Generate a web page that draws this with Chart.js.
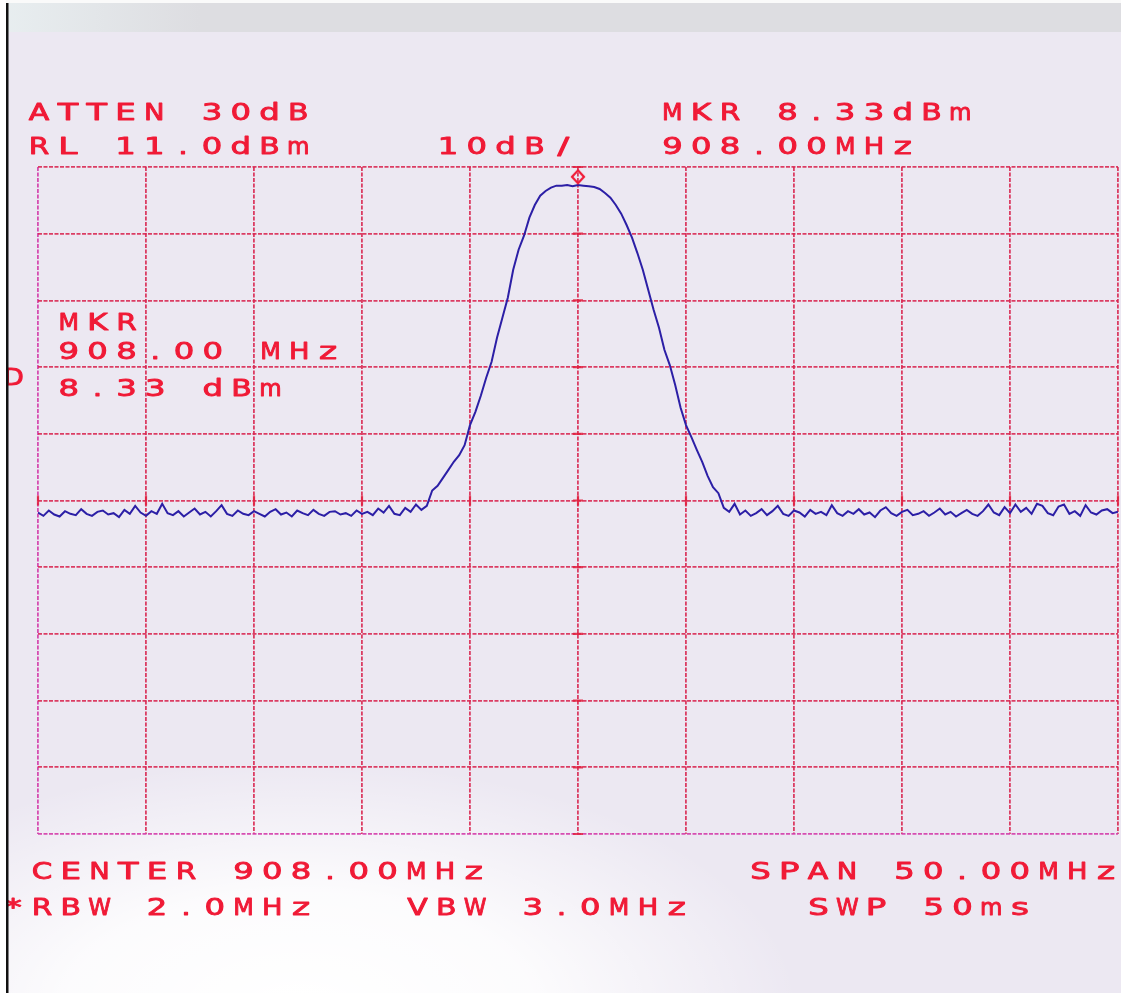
<!DOCTYPE html>
<html>
<head>
<meta charset="utf-8">
<title>Spectrum plot 908 MHz</title>
<script src="https://cdn.jsdelivr.net/npm/chart.js@4.4.1/dist/chart.umd.min.js"></script>
<style>
  html, body { margin: 0; padding: 0; background: #ece8f2; overflow: hidden; }
  canvas { display: block; }
</style>
</head>
<body>
<canvas id="sa" width="1121" height="993"></canvas>
<script>
// analyzer settings, as printed on the plot
const CENTER_MHZ = 908.0;
const SPAN_MHZ = 50.0;
const MARKER_MHZ = 908.0;
const MARKER_DBM = 8.33;

// graticule: 10 divisions each way
const freqTicks = [883, 888, 893, 898, 903, 908, 913, 918, 923, 928, 933];
const levelTicks = [-89, -79, -69, -59, -49, -39, -29, -19, -9, 1, 11];

// trace in dBm, one value every 0.25 MHz from 883 MHz
const floorLeft = [
  -40.8,-41.3,-40.5,-41.1,-41.4,-40.6,-41.0,-41.2,-40.3,-41.0,
  -41.3,-40.7,-40.5,-41.1,-40.9,-41.5,-40.4,-41.0,-39.8,-40.8,
  -41.3,-40.6,-41.0,-39.5,-40.9,-41.2,-40.6,-41.4,-40.8,-40.2,
  -41.1,-40.7,-41.4,-40.6,-39.7,-41.0,-41.3,-40.5,-41.0,-41.2,
  -40.6,-41.0,-41.4,-40.7,-40.3,-41.1,-40.8,-41.4,-40.5,-40.9,
  -41.2,-40.4,-41.0,-41.3,-40.7,-40.6,-41.1,-40.9,-41.3,-40.5,
  -41.0,-40.7,-41.2,-40.2,-40.8,-39.8,-41.0,-41.2,-40.1,-40.7,
  -39.6,-40.4
];
const carrier = [
  -39.8,-37.5,-36.8,-35.6,-34.4,-33.2,-32.2,-30.7,-27.7,-25.7,
  -23.3,-20.6,-18.2,-14.6,-11.6,-8.6,-4.4,-1.4,0.7,3.4,
  5.3,6.7,7.4,7.9,8.2,8.2,8.3,8.1,8.3,8.2,
  8.1,8.0,7.7,7.1,6.4,5.3,4.0,2.3,0.4,-1.9,
  -4.4,-7.4,-10.4,-13.1,-16.4,-18.7,-21.7,-25.1,-27.7,-29.5,
  -31.4,-33.2,-35.3,-37.0,-37.9,-40.1
];
const floorRight = [
  -40.7,-39.5,-41.1,-40.5,-41.3,-40.9,-40.3,-41.2,-40.6,-39.8,
  -41.0,-41.3,-40.5,-40.8,-41.4,-40.4,-41.0,-40.7,-41.2,-39.7,
  -40.9,-41.3,-40.6,-41.0,-40.3,-41.1,-40.8,-41.5,-40.5,-40.0,
  -40.9,-41.3,-40.7,-40.4,-41.2,-41.0,-40.6,-41.3,-40.8,-40.2,
  -41.1,-40.7,-41.4,-40.9,-40.4,-41.0,-41.3,-40.6,-39.6,-40.8,
  -41.2,-40.0,-40.9,-39.6,-40.7,-40.1,-41.0,-39.5,-39.8,-40.9,
  -41.2,-39.9,-39.6,-41.0,-40.6,-41.3,-39.7,-40.8,-41.1,-40.5,
  -40.3,-40.9,-40.7
];

const trace = floorLeft.concat(carrier, floorRight);
const startMhz = CENTER_MHZ - SPAN_MHZ / 2;
const binMhz = SPAN_MHZ / (trace.length - 1);
const tracePoints = trace.map((v, i) => ({x: startMhz + i * binMhz, y: v}));

// printer annotations
const INK = "#f01a36";
const PITCH = 28.8;
const annotations = [
  ["ATTEN 30dB", 28.6, 119.5],
  ["RL 11.0dBm", 28.6, 154],
  ["10dB/", 437.5, 154],
  ["MKR 8.33dBm", 661.8, 119.5],
  ["908.00MHz", 662, 154],
  ["MKR", 58.3, 330],
  ["908.00 MHz", 58.3, 359],
  ["8.33 dBm", 58.3, 396],
  ["D", 3, 385],
  ["CENTER 908.00MHz", 31.4, 879],
  ["SPAN 50.00MHz", 750, 879],
  ["*RBW 2.0MHz", 2.6, 915],
  ["VBW 3.0MHz", 407, 915],
  ["SWP 50ms", 808, 915],
];

function plotterText(ctx, str, x0, base){
  ctx.save();
  ctx.fillStyle = INK;
  ctx.strokeStyle = INK;
  ctx.lineWidth = 0.9;
  ctx.lineJoin = "round";
  ctx.font = '23px "DejaVu Sans"';
  ctx.textAlign = "center";
  ctx.textBaseline = "alphabetic";
  for(let i = 0; i < str.length; i++){
    const ch = str[i];
    if(ch === " ") continue;
    const w = ctx.measureText(ch).width;
    let sx = Math.max(1, Math.min(1.5, 20.5 / w));
    if(ch === ".") sx = 1.3;
    ctx.save();
    ctx.translate(x0 + i * PITCH + 10.5, base);
    ctx.scale(sx, 1);
    ctx.fillText(ch, 0, 0);
    ctx.strokeText(ch, 0, 0);
    ctx.restore();
  }
  ctx.restore();
}

// marker diamond, drawn a little above the trace point
function markerImage(){
  const c = document.createElement("canvas");
  c.width = 16; c.height = 34;
  const g = c.getContext("2d");
  g.strokeStyle = INK;
  g.lineWidth = 2.2;
  g.beginPath();
  g.moveTo(8, 2.5); g.lineTo(14, 9); g.lineTo(8, 15.5); g.lineTo(2, 9);
  g.closePath();
  g.stroke();
  return c;
}

const paper = {
  id: "paper",
  beforeDraw(chart){
    const {ctx, width, height} = chart;
    ctx.save();
    ctx.fillStyle = "#ece8f2";
    ctx.fillRect(0, 0, width, height);
    // whiter patch in the lower left of the scan
    ctx.save();
    ctx.translate(300, 1010);
    ctx.scale(2.0, 1);
    const g = ctx.createRadialGradient(0, 0, 10, 0, 0, 250);
    g.addColorStop(0, "rgba(255,255,255,1)");
    g.addColorStop(0.45, "rgba(255,255,255,0.85)");
    g.addColorStop(1, "rgba(255,255,255,0)");
    ctx.fillStyle = g;
    ctx.fillRect(-300, -300, 600, 300);
    ctx.restore();
    // scanner lid band
    ctx.fillStyle = "#fafafa";
    ctx.fillRect(0, 0, width, 3);
    const band = ctx.createLinearGradient(0, 0, 200, 0);
    band.addColorStop(0, "#e8eef0");
    band.addColorStop(1, "#dddde1");
    ctx.fillStyle = band;
    ctx.fillRect(0, 3, width, 29);
    ctx.restore();
  },
  beforeDatasetsDraw(chart){
    // heavier cross marks along the centre lines
    const {ctx, scales: {x, y}} = chart;
    const cx = x.getPixelForValue(CENTER_MHZ);
    const cy = y.getPixelForValue(levelTicks[5]);
    ctx.save();
    ctx.strokeStyle = "rgba(224,32,62,0.85)";
    ctx.lineWidth = 2.2;
    ctx.beginPath();
    for(const v of levelTicks){
      const py = y.getPixelForValue(v);
      ctx.moveTo(cx - 5, py); ctx.lineTo(cx + 5, py);
    }
    for(const f of freqTicks){
      const px = x.getPixelForValue(f);
      ctx.moveTo(px, cy - 5); ctx.lineTo(px, cy + 5);
    }
    ctx.stroke();
    ctx.restore();
  },
  afterDraw(chart){
    const {ctx, height} = chart;
    for(const [s, x0, b] of annotations) plotterText(ctx, s, x0, b);
    // scan edge on the left
    ctx.save();
    ctx.fillStyle = "#ffffff";
    ctx.fillRect(0, 0, 6, height);
    ctx.fillStyle = "#111111";
    ctx.fillRect(6, 3, 2.5, height - 3);
    ctx.restore();
  }
};

function gridColor(c){
  return c.index === 0 ? "rgba(212,60,170,0.9)" : "rgba(216,36,78,0.88)";
}

new Chart(document.getElementById("sa"), {
  type: "line",
  data: {
    datasets: [
      {
        label: "marker",
        data: [{x: MARKER_MHZ, y: MARKER_DBM}],
        showLine: false,
        pointStyle: markerImage(),
        pointRadius: 8,
      },
      {
        label: "trace",
        data: tracePoints,
        borderColor: "#2c1fa6",
        borderWidth: 2,
        pointRadius: 0,
        tension: 0,
      },
    ]
  },
  options: {
    responsive: false,
    animation: false,
    devicePixelRatio: 1,
    layout: {autoPadding: false, padding: {left: 38, top: 167, right: 3, bottom: 159}},
    plugins: {legend: {display: false}, tooltip: {enabled: false}},
    scales: {
      x: {
        type: "linear",
        min: freqTicks[0],
        max: freqTicks[freqTicks.length - 1],
        afterBuildTicks: s => { s.ticks = freqTicks.map(v => ({value: v})); },
        ticks: {display: false},
        grid: {color: gridColor, lineWidth: 1.8, drawTicks: false},
        border: {display: false, dash: [4, 1.5]},
      },
      y: {
        type: "linear",
        min: levelTicks[0],
        max: levelTicks[levelTicks.length - 1],
        afterBuildTicks: s => { s.ticks = levelTicks.map(v => ({value: v})); },
        ticks: {display: false},
        grid: {color: gridColor, lineWidth: 1.8, drawTicks: false},
        border: {display: false, dash: [4, 1.5]},
      },
    }
  },
  plugins: [paper]
});
</script>
</body>
</html>
